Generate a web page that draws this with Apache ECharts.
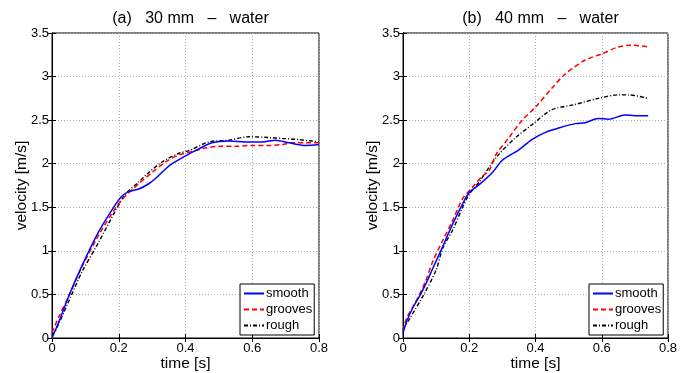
<!DOCTYPE html>
<html><head><meta charset="utf-8">
<script src="https://cdn.jsdelivr.net/npm/echarts@6/dist/echarts.min.js"></script>
<style>html,body{margin:0;padding:0;background:#fff}#c{width:691px;height:373px}</style>
</head><body><div id="c"></div>
<script>
// ---- data ----
const titles = ['(a)   30 mm   \u2013   water', '(b)   40 mm   \u2013   water'];
const seriesNames = ['smooth', 'grooves', 'rough'];
const xTicks = [0, 0.2, 0.4, 0.6, 0.8];
const yTicks = [0, 0.5, 1, 1.5, 2, 2.5, 3, 3.5];

// (a) 30 mm
const smoothA_t = [0, 0.02, 0.05, 0.09, 0.14, 0.19, 0.21, 0.23, 0.26, 0.29, 0.31, 0.34, 0.36, 0.40, 0.44, 0.48, 0.53, 0.58, 0.63, 0.67, 0.71, 0.76, 0.80];
const smoothA_v = [0, 0.18, 0.48, 0.83, 1.22, 1.53, 1.63, 1.68, 1.71, 1.77, 1.83, 1.94, 2.00, 2.09, 2.17, 2.24, 2.26, 2.25, 2.25, 2.27, 2.24, 2.21, 2.22];
const groovesA_t = [0, 0.02, 0.05, 0.09, 0.14, 0.19, 0.22, 0.26, 0.30, 0.34, 0.38, 0.42, 0.46, 0.50, 0.55, 0.60, 0.65, 0.69, 0.72, 0.76, 0.80];
const groovesA_v = [0.06, 0.24, 0.48, 0.82, 1.18, 1.49, 1.63, 1.77, 1.90, 2.02, 2.10, 2.14, 2.18, 2.20, 2.20, 2.21, 2.21, 2.22, 2.24, 2.24, 2.24];
const roughA_t = [0, 0.01, 0.05, 0.09, 0.14, 0.19, 0.22, 0.26, 0.29, 0.33, 0.38, 0.41, 0.47, 0.53, 0.59, 0.65, 0.69, 0.73, 0.78, 0.80];
const roughA_v = [0.03, 0.08, 0.42, 0.76, 1.10, 1.46, 1.65, 1.79, 1.90, 2.02, 2.12, 2.15, 2.25, 2.27, 2.31, 2.30, 2.29, 2.28, 2.26, 2.25];

// (b) 40 mm
const smoothB_t = [0, 0.01, 0.03, 0.05, 0.07, 0.09, 0.12, 0.15, 0.18, 0.20, 0.23, 0.27, 0.30, 0.35, 0.39, 0.43, 0.47, 0.52, 0.55, 0.59, 0.62, 0.67, 0.70, 0.74];
const smoothB_v = [0.05, 0.18, 0.35, 0.48, 0.63, 0.80, 1.05, 1.31, 1.54, 1.67, 1.76, 1.90, 2.04, 2.16, 2.28, 2.36, 2.41, 2.46, 2.47, 2.52, 2.51, 2.56, 2.55, 2.55];
const groovesB_t = [0, 0.01, 0.03, 0.05, 0.07, 0.09, 0.12, 0.15, 0.18, 0.21, 0.24, 0.26, 0.28, 0.32, 0.36, 0.40, 0.45, 0.49, 0.55, 0.60, 0.65, 0.69, 0.74];
const groovesB_v = [0.08, 0.22, 0.36, 0.50, 0.67, 0.88, 1.12, 1.35, 1.60, 1.73, 1.86, 1.92, 2.10, 2.30, 2.50, 2.65, 2.87, 3.03, 3.19, 3.26, 3.34, 3.36, 3.34];
const roughB_t = [0, 0.02, 0.06, 0.10, 0.12, 0.15, 0.18, 0.20, 0.23, 0.26, 0.29, 0.34, 0.39, 0.45, 0.52, 0.59, 0.65, 0.68, 0.74];
const roughB_v = [0.10, 0.22, 0.48, 0.78, 1.03, 1.24, 1.50, 1.65, 1.79, 1.96, 2.11, 2.30, 2.45, 2.62, 2.68, 2.75, 2.79, 2.79, 2.75];

// ---- build ----
const FONT = 'Liberation Sans, Arial, Helvetica, sans-serif';
const pairs = (t, v) => t.map((x, i) => [x, v[i]]);
const styles = [
  { color: '#0000ff', type: 'solid', width: 1.5 },
  { color: '#ff0000', type: [5, 3], width: 1.5 },
  { color: '#000000', type: [4, 2, 1, 2], width: 1.4 }
];
const panelData = [
  [pairs(smoothA_t, smoothA_v), pairs(groovesA_t, groovesA_v), pairs(roughA_t, roughA_v)],
  [pairs(smoothB_t, smoothB_v), pairs(groovesB_t, groovesB_v), pairs(roughB_t, roughB_v)]
];
const grids = [
  { left: 52, top: 33, width: 267, height: 305 },
  { left: 403, top: 33, width: 265, height: 305 }
];

const xAxes = [], yAxes = [], series = [], titleArr = [], legends = [];
grids.forEach((g, gi) => {
  const baseX = {
    type: 'value', gridIndex: gi, min: xTicks[0], max: xTicks[xTicks.length - 1], interval: 0.2,
    axisLine: { show: true, lineStyle: { color: '#000', width: 1 } },
    axisTick: { show: true, inside: true, length: 4, lineStyle: { color: '#000' } },
    splitLine: { show: false }
  };
  xAxes.push(Object.assign({}, baseX, {
    position: 'bottom',
    axisLabel: { color: '#000', fontSize: 13, fontFamily: FONT, margin: 4 },
    splitLine: { show: true, lineStyle: { color: '#b0b0b0', type: [1, 2], width: 1 } },
    name: 'time [s]', nameLocation: 'middle', nameGap: 18, nameMoveOverlap: false,
    nameTextStyle: { color: '#000', fontSize: 15.5, fontFamily: FONT }
  }));
  xAxes.push(Object.assign({}, baseX, { position: 'top', axisLabel: { show: false } }));
  const baseY = {
    type: 'value', gridIndex: gi, min: yTicks[0], max: yTicks[yTicks.length - 1], interval: 0.5,
    axisLine: { show: true, lineStyle: { color: '#000', width: 1 } },
    axisTick: { show: true, inside: true, length: 4, lineStyle: { color: '#000' } },
    splitLine: { show: false }
  };
  yAxes.push(Object.assign({}, baseY, {
    position: 'left',
    axisLabel: { color: '#000', fontSize: 13, fontFamily: FONT, margin: 3 },
    splitLine: { show: true, lineStyle: { color: '#b0b0b0', type: [1, 2], width: 1 } },
    name: 'velocity [m/s]', nameLocation: 'middle', nameGap: 22, nameMoveOverlap: false,
    nameTextStyle: { color: '#000', fontSize: 15.5, fontFamily: FONT }
  }));
  yAxes.push(Object.assign({}, baseY, { position: 'right', axisLabel: { show: false } }));

  titleArr.push({
    text: titles[gi], left: g.left + g.width / 2, top: 6, textAlign: 'center',
    textStyle: { fontSize: 16, fontWeight: 'normal', color: '#000', fontFamily: FONT }
  });

  seriesNames.forEach((nm, si) => {
    series.push({
      name: nm, type: 'line', xAxisIndex: gi * 2, yAxisIndex: gi * 2,
      data: panelData[gi][si], showSymbol: false, symbol: 'none', smooth: 0.3,
      lineStyle: styles[si], itemStyle: { color: styles[si].color },
      animation: false, z: 5 - si
    });
  });

  legends.push({
    data: seriesNames, orient: 'vertical',
    left: g.left + g.width - 79, top: 284,
    backgroundColor: '#fff', borderColor: '#000', borderWidth: 1,
    padding: [3, 2, 3, 3], itemGap: 3, itemWidth: 20, itemHeight: 10,
    itemStyle: { opacity: 0 },
    textStyle: { color: '#000', fontSize: 13, fontFamily: FONT, padding: [0, 0, 0, -3] },
    selectedMode: false
  });
});

const chart = echarts.init(document.getElementById('c'), null, { renderer: 'canvas' });
chart.setOption({
  animation: false,
  backgroundColor: '#fff',
  title: titleArr,
  legend: legends,
  grid: grids.map(g => Object.assign({ show: true, borderColor: '#000', borderWidth: 1, backgroundColor: 'transparent', containLabel: false, outerBoundsMode: 'none' }, g)),
  xAxis: xAxes,
  yAxis: yAxes,
  series: series
});
</script></body></html>
